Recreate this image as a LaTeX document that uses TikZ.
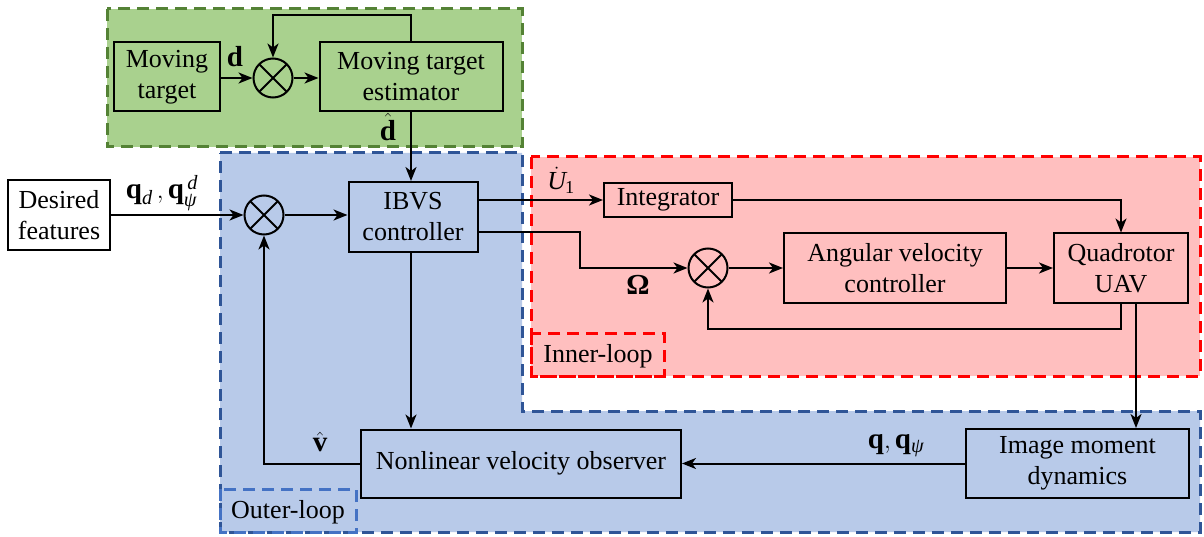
\documentclass[tikz,border=0pt]{standalone}
\usepackage{amsmath}
\usepackage{fontspec}
\setmainfont{Liberation Serif}
\usetikzlibrary{arrows.meta,calc}
\definecolor{grfill}{HTML}{A9D18E}
\definecolor{grline}{HTML}{548235}
\definecolor{blfill}{HTML}{B8CAE9}
\definecolor{blline}{HTML}{2F5597}
\definecolor{bllight}{HTML}{4472C4}
\definecolor{rdfill}{HTML}{FFBFBF}
\definecolor{rdline}{HTML}{FF0000}
\tikzset{
  txt/.style={font=\fontsize{26}{31}\selectfont},
  bigtxt/.style={font=\fontsize{29}{34}\selectfont},
  blk/.style={draw=black, line width=2pt, align=center, txt, inner sep=0pt},
  sumnode/.style={draw=black, line width=2pt, circle, minimum size=39pt, inner sep=0pt,
    path picture={\draw[line width=2pt]
      (path picture bounding box.north west) -- (path picture bounding box.south east)
      (path picture bounding box.south west) -- (path picture bounding box.north east);}},
  conn/.style={line width=2pt, -{Stealth[length=14pt,width=11pt,inset=4pt]}},
  regionline/.style={line width=3pt, dash pattern=on 12pt off 7pt},
  tag/.style={txt, inner sep=0pt},
  mathtag/.style={bigtxt, inner sep=0pt},
}
\begin{document}
\begin{tikzpicture}[x=1pt, y=-1pt]
\useasboundingbox (0,0) rectangle (1204,537);

% loop regions
\fill[grfill] (107,9) rectangle (522,147);
\draw[grline, regionline] (107,9) rectangle (522,147);
\fill[blfill] (220,153) -- (522,153) -- (522,411) -- (1200,411) -- (1200,532) -- (220,532) -- cycle;
\draw[blline, regionline] (220,153) -- (522,153) -- (522,411) -- (1200,411) -- (1200,532) -- (220,532) -- cycle;
\fill[rdfill] (531,157) rectangle (1200,376);
\draw[rdline, regionline] (531,157) rectangle (1200,376);
\draw[rdline, regionline] (531,333) rectangle (664,376);
\node[tag] (innerlbl) at (598,356) {Inner-loop};
\draw[bllight, regionline] (220,489) rectangle (356,532);
\node[tag] (outerlbl) at (288,512) {Outer-loop};

% blocks
\node[blk, minimum width=106pt, minimum height=69pt] (mt) at (167,77) {Moving\\target};
\node[sumnode] (gsum) at (273,78) {};
\node[blk, minimum width=183pt, minimum height=69pt] (mte) at (411,77) {Moving target\\estimator};
\node[blk, fill=white, minimum width=102pt, minimum height=70pt] (des) at (59,215) {Desired\\features};
\node[sumnode] (osum) at (264,215) {};
\node[blk, minimum width=129pt, minimum height=70pt] (ibvs) at (413,217) {IBVS\\controller};
\node[blk, minimum width=128pt, minimum height=34pt] (integ) at (668,200) {Integrator};
\node[sumnode] (isum) at (708,268) {};
\node[blk, minimum width=222pt, minimum height=69pt] (avc) at (895,268) {Angular velocity\\controller};
\node[blk, minimum width=134pt, minimum height=69pt] (quad) at (1121,268) {Quadrotor\\UAV};
\node[blk, minimum width=223pt, minimum height=69pt] (imd) at (1077.5,463.5) {Image moment\\dynamics};
\node[blk, minimum width=320pt, minimum height=68pt] (nvo) at (521,463.5) {Nonlinear velocity observer};

% estimator loop
\draw[conn] (mt.east |- gsum) -- (gsum.west);
\draw[conn] (gsum.east) -- (mte.west |- gsum);
\coordinate (loopup) at (411,15);
\draw[conn] (mte.north) -- (loopup) -| (gsum.north);
\draw[conn] (mte.south) -- (mte.south |- ibvs.north);

% outer loop
\draw[conn] (des.east |- osum) -- (osum.west);
\draw[conn] (osum.east) -- (ibvs.west |- osum);
\draw[conn] (integ.west -| ibvs.east) -- (integ.west);
\coordinate (ibvslo) at ($(ibvs.east)+(0,15)$);
\coordinate (omegabend) at (580,232);
\draw[conn] (ibvslo) -- (omegabend) |- (isum.west);
\draw[conn] (ibvs.south -| mte.south) -- (mte.south |- nvo.north);
\draw[conn] (imd.west) -- (nvo.east);
\draw[conn] (nvo.west) -| (osum.south);

% inner loop
\draw[conn] (isum.east) -- (avc.west);
\draw[conn] (avc.east) -- (quad.west);
\draw[conn] (integ.east) -| (quad.north);
\coordinate (fbturn) at (1121,329);
\draw[conn] (quad.south) -- (fbturn) -| (isum.south);
\coordinate (quadout) at (1136,302.5);
\draw[conn] (quadout) -- (quadout |- imd.north);

% signal labels
\node[mathtag] (dlbl) at (235,57) {\textbf{d}};
\node[mathtag] (dhat) at (388,127) {$\hat{\mathbf{d}}$};
\node[mathtag] (qdlbl) at (162,193) {$\mathbf{q}_{\text{\itshape d}}\,\mathbf{,}\,\mathbf{q}_{\text{\itshape ψ}}^{\,\text{\itshape d}}$};
\node[tag] (u1lbl) at (561,180) {$\dot{\mathit{U}}\kern-1pt_{\mathrm{1}}$};
\node[mathtag] (omlbl) at (638,285) {\textbf{Ω}};
\node[mathtag] (vhat) at (320,442) {$\hat{\mathbf{v}}$};
\node[mathtag] (qlbl) at (896,446) {$\mathbf{q},\mathbf{q}_{\text{\itshape ψ}}$};
\end{tikzpicture}
\end{document}
